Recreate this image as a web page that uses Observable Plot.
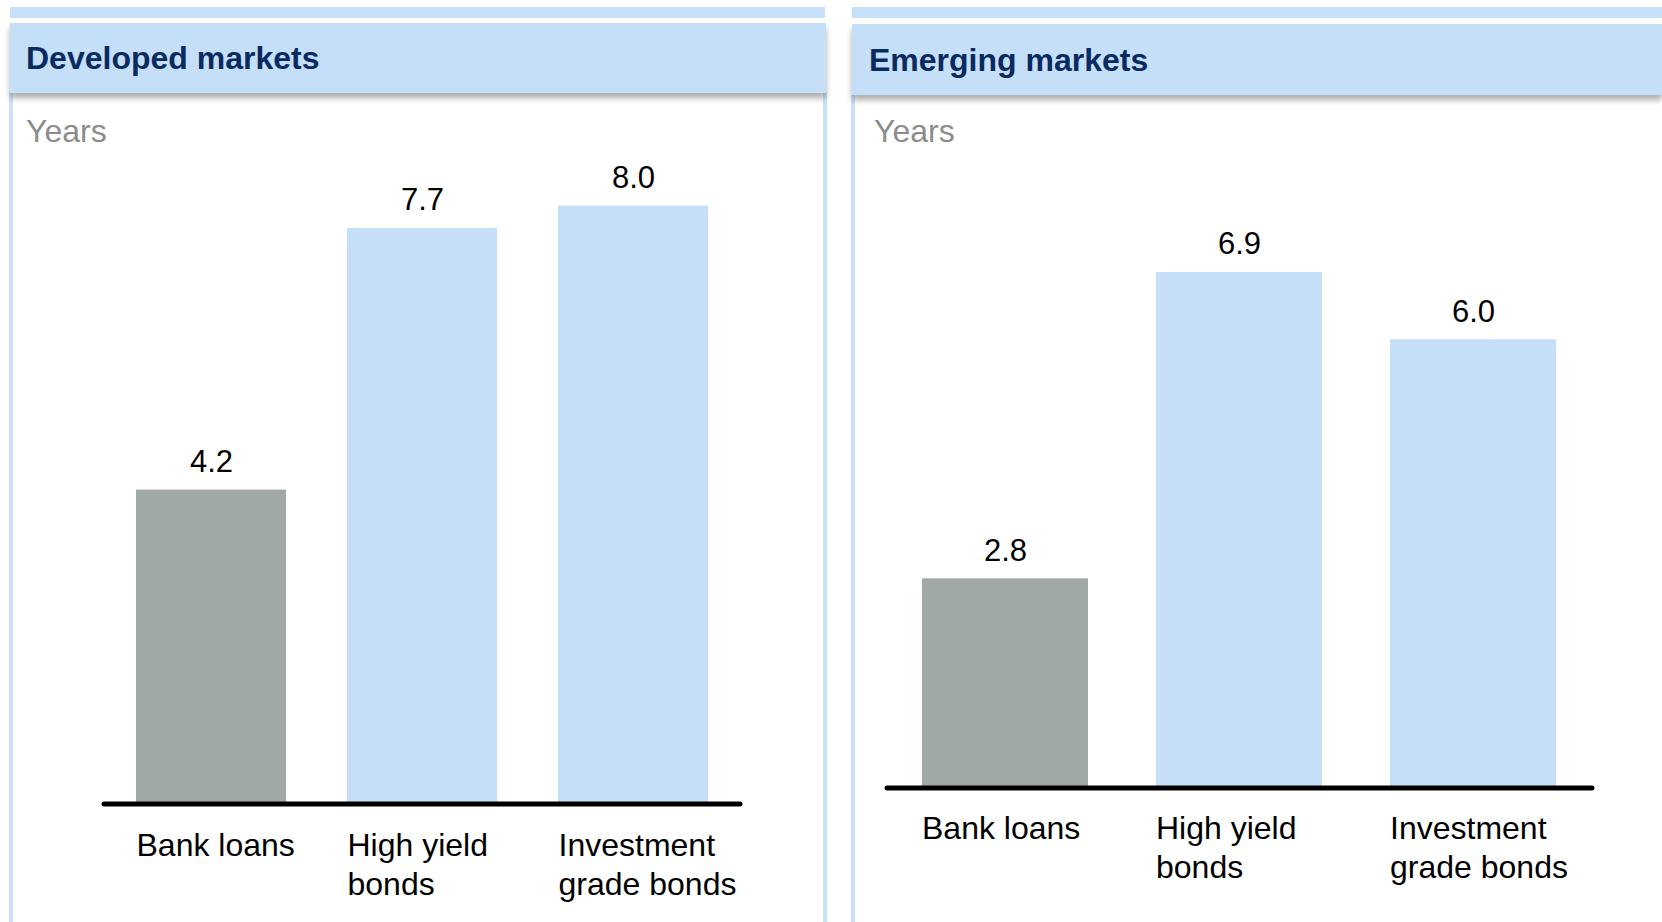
<!DOCTYPE html>
<html>
<head>
<meta charset="utf-8">
<script src="https://cdn.jsdelivr.net/npm/d3@7"></script>
<script src="https://cdn.jsdelivr.net/npm/@observablehq/plot@0.6"></script>
<style>
  html, body { margin: 0; padding: 0; background: #fff; }
  #page { position: relative; width: 1662px; height: 922px; overflow: hidden; background: #fff;
          font-family: "Liberation Sans", Arial, Helvetica, sans-serif; }
  .abs { position: absolute; }
  .strip { background: #c6e0f9; }
  .header { background: #c6dff9; box-shadow: 0 5px 6px rgba(0,0,0,0.32); z-index: 2;
            box-sizing: border-box; font-weight: bold; font-size: 32px; color: #0a2b5f; white-space: nowrap; }
  .body { box-sizing: border-box; border-left: 4px solid #c9e1f9; border-right: 4px solid #c9e1f9; background: #fff; }
  .unit { font-size: 32px; color: #8c8c8c; line-height: 36px; white-space: nowrap; }
  .plot { z-index: 1; }
</style>
</head>
<body>
<div id="page">
  <!-- left panel -->
  <div class="abs strip" style="left:10px;top:7px;width:815px;height:11px"></div>
  <div class="abs body" style="left:9px;top:92px;width:818px;height:840px"></div>
  <div class="abs header" id="title0" style="left:10px;top:23px;width:816px;height:70px;line-height:70px;padding-left:16px"></div>
  <div class="abs unit" id="unit0" style="left:26px;top:113px"></div>
  <div class="abs plot" id="plot0" style="left:0px;top:100px"></div>
  <!-- right panel -->
  <div class="abs strip" style="left:852px;top:7px;width:810px;height:11px"></div>
  <div class="abs body" style="left:851px;top:95px;width:830px;height:840px;border-right:none"></div>
  <div class="abs header" id="title1" style="left:852px;top:24px;width:810px;height:71px;line-height:72px;padding-left:17px"></div>
  <div class="abs unit" id="unit1" style="left:874px;top:113px"></div>
  <div class="abs plot" id="plot1" style="left:840px;top:100px"></div>
</div>
<script>
// ---- data ----
const categories = ["Bank loans", "High yield bonds", "Investment grade bonds"];
const tickLabels = ["Bank loans", "High yield\nbonds", "Investment\ngrade bonds"];
const developedValues = [4.2, 7.7, 8.0];
const emergingValues = [2.8, 6.9, 6.0];
const panelTitles = ["Developed markets", "Emerging markets"];
const unitLabel = "Years";
const barColors = ["#a0a8a8", "#c5dff9", "#c5dff9"];

const labelOf = new Map(categories.map((c, i) => [c, tickLabels[i]]));
const fmt = d3.format(".1f");
const FONT = '"Liberation Sans", Arial, Helvetica, sans-serif';

function makeChart(values, opts) {
  const data = categories.map((c, i) => ({category: c, value: values[i]}));
  return Plot.plot({
    width: opts.width,
    height: opts.height,
    marginLeft: opts.marginLeft,
    marginRight: opts.marginRight,
    marginTop: opts.marginTop,
    marginBottom: opts.marginBottom,
    style: {fontFamily: FONT, background: "transparent", overflow: "visible"},
    x: {domain: categories, paddingInner: 0.289, paddingOuter: opts.paddingOuter, axis: null},
    y: {domain: [0, 8], axis: null},
    color: {domain: categories, range: barColors},
    marks: [
      Plot.barY(data, {x: "category", y: "value", fill: "category"}),
      Plot.ruleY([0], {stroke: "#000", strokeWidth: 5, strokeLinecap: "round"}),
      Plot.text(data, {x: "category", y: "value", text: d => fmt(d.value), dy: -28,
                       fontSize: 31, fill: "#000"}),
      Plot.axisX({tickSize: 0, tickPadding: opts.tickPadding, tickFormat: d => labelOf.get(d),
                  textAnchor: "start", dx: opts.labelDx, lineAnchor: "top", lineHeight: 1.22,
                  fontSize: 32, fill: "#000", label: null})
    ]
  });
}

document.getElementById("title0").textContent = panelTitles[0];
document.getElementById("title1").textContent = panelTitles[1];
document.getElementById("unit0").textContent = unitLabel;
document.getElementById("unit1").textContent = unitLabel;

// left: frame x 104..740 (page), baseline y 803.5, y=8 at 205.6
document.getElementById("plot0").appendChild(makeChart(developedValues, {
  width: 830, height: 822,
  marginLeft: 104, marginRight: 90,
  marginTop: 105.6, marginBottom: 118.5,
  paddingOuter: 0.15, labelDx: -75, tickPadding: 24
}));
// right: frame x 887..1592 (page), baseline y 787.5, y=8 at 189.9
document.getElementById("plot1").appendChild(makeChart(emergingValues, {
  width: 822, height: 822,
  marginLeft: 47, marginRight: 70,
  marginTop: 89.9, marginBottom: 134.5,
  paddingOuter: 0.145, labelDx: -83.5, tickPadding: 23
}));
</script>
</body>
</html>
